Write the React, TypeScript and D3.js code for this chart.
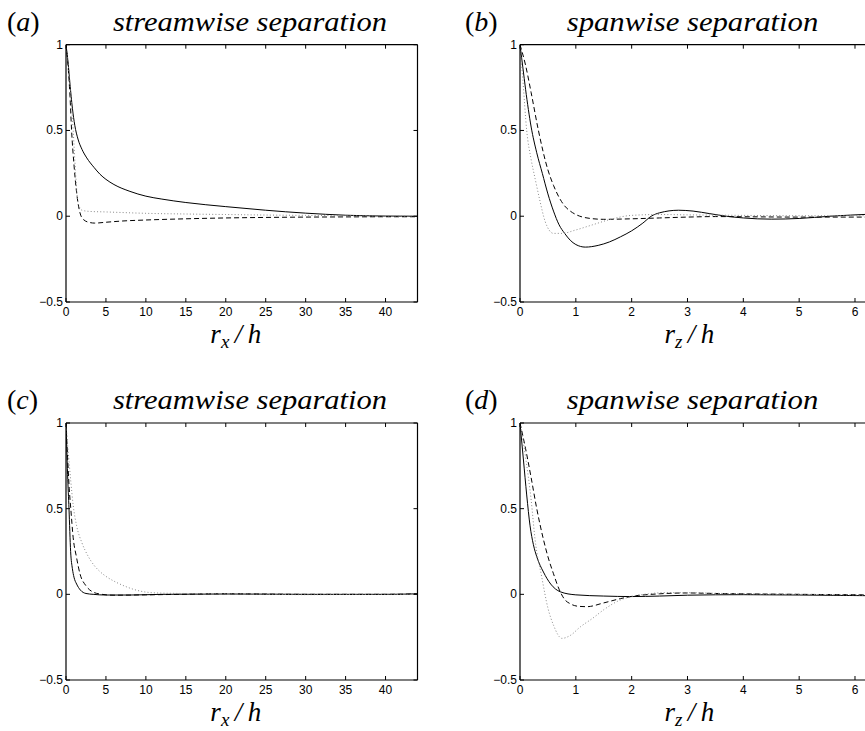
import React from "react";
import * as d3 from "d3";

type Pt = [number, number];

// x tick labels
const xTicksStream = [0, 5, 10, 15, 20, 25, 30, 35, 40];
const xTicksSpan = [0, 1, 2, 3, 4, 5, 6];
const yTicks = [-0.5, 0, 0.5, 1];
const yTickLabels = ["\u22120.5", "0", "0.5", "1"];

const panelLetters = ["a", "b", "c", "d"];
const panelTitles = ["streamwise separation", "spanwise separation", "streamwise separation", "spanwise separation"];

// (a) streamwise
const aSolid: Pt[] = [[0,1],[0.25,0.9],[0.5,0.77],[0.8,0.63],[1.1,0.53],[1.5,0.45],[2,0.39],[2.6,0.34],[3.5,0.285],[4.25,0.245],[5,0.215],[6,0.185],[8,0.145],[10,0.117],[12,0.1],[15,0.08],[20,0.056],[25,0.035],[30,0.018],[35,0.006],[40,0.001],[44,0]];
const aDashed: Pt[] = [[0,1],[0.3,0.85],[0.5,0.7],[0.7,0.5],[1,0.3],[1.3,0.15],[1.75,0.02],[2.2,-0.02],[3,-0.037],[3.6,-0.04],[5,-0.035],[7,-0.028],[10,-0.022],[15,-0.015],[20,-0.01],[25,-0.007],[30,-0.005],[35,-0.004],[40,-0.003],[44,-0.003]];
const aDotted: Pt[] = [[0,1],[0.3,0.88],[0.6,0.7],[0.9,0.5],[1.2,0.25],[1.5,0.08],[2,0.035],[3,0.028],[5,0.025],[10,0.017],[15,0.013],[20,0.01],[25,0.007],[30,0.005],[35,0.003],[40,0.001],[44,0]];

// (b) spanwise
const bSolid: Pt[] = [[0,1],[0.05,0.87],[0.1,0.74],[0.2,0.52],[0.3,0.37],[0.4,0.25],[0.5,0.13],[0.6,0.03],[0.7,-0.05],[0.8,-0.1],[0.9,-0.14],[1.0,-0.165],[1.17,-0.18],[1.4,-0.17],[1.6,-0.15],[1.8,-0.12],[2.0,-0.085],[2.2,-0.04],[2.35,0],[2.5,0.02],[2.84,0.035],[3.1,0.03],[3.4,0.015],[3.7,0],[4.0,-0.01],[4.5,-0.017],[5.0,-0.013],[5.55,0],[6.28,0.012]];
const bDashed: Pt[] = [[0,1],[0.1,0.88],[0.2,0.72],[0.33,0.5],[0.5,0.27],[0.6,0.18],[0.7,0.11],[0.8,0.06],[0.9,0.03],[1.0,0.01],[1.2,-0.01],[1.5,-0.018],[2,-0.015],[2.5,-0.01],[3,-0.005],[3.5,-0.002],[4,-0.003],[5,-0.005],[6.28,-0.005]];
const bDotted: Pt[] = [[0,1],[0.05,0.8],[0.12,0.5],[0.2,0.33],[0.27,0.22],[0.35,0.1],[0.45,-0.03],[0.6,-0.1],[0.75,-0.1],[1.0,-0.08],[1.3,-0.05],[1.6,-0.02],[2.0,0.005],[2.5,0.01],[3,0.008],[4,0.005],[5,0.003],[6.28,0.003]];

// (c) streamwise
const cSolid: Pt[] = [[0,1],[0.1,0.85],[0.2,0.7],[0.375,0.5],[0.58,0.25],[0.8,0.15],[1.0,0.1],[1.33,0.06],[1.8,0.025],[2.5,0.005],[3.4,0],[5,-0.004],[8,-0.004],[12,0],[20,0.002],[30,0],[40,0],[44,0.003]];
const cDashed: Pt[] = [[0,1],[0.2,0.8],[0.4,0.62],[0.6,0.5],[0.9,0.33],[1.3,0.22],[1.75,0.12],[2.5,0.05],[3.4,0.013],[4.5,0],[6,-0.005],[10,-0.003],[20,0.003],[30,0],[40,0],[44,0.003]];
const cDotted: Pt[] = [[0,1],[0.3,0.82],[0.6,0.66],[0.9,0.52],[1.33,0.4],[2,0.3],[2.8,0.22],[3.5,0.17],[4.2,0.135],[5,0.105],[6.3,0.07],[7.5,0.045],[8.4,0.03],[10,0.013],[12,0.007],[15,0.005],[20,0.004],[30,-0.002],[40,0],[44,0]];

// (d) spanwise
const dSolid: Pt[] = [[0,1],[0.06,0.79],[0.12,0.58],[0.18,0.4],[0.24,0.29],[0.3,0.22],[0.42,0.13],[0.55,0.06],[0.72,0.015],[1.0,-0.003],[1.5,-0.01],[2,-0.013],[2.5,-0.01],[3,-0.005],[4,-0.002],[5,-0.004],[6.28,-0.008]];
const dDashed: Pt[] = [[0,1],[0.1,0.85],[0.2,0.68],[0.3,0.5],[0.42,0.32],[0.5,0.22],[0.6,0.12],[0.7,0.03],[0.8,-0.03],[0.9,-0.055],[1.05,-0.07],[1.2,-0.072],[1.5,-0.05],[1.8,-0.025],[2.0,-0.012],[2.5,0.003],[3,0.008],[3.5,0.005],[4,0.003],[5,0],[6.28,-0.003]];
const dDotted: Pt[] = [[0,1],[0.1,0.8],[0.2,0.55],[0.27,0.32],[0.39,0.1],[0.5,-0.08],[0.6,-0.18],[0.75,-0.257],[0.9,-0.24],[1.08,-0.19],[1.3,-0.14],[1.5,-0.09],[1.75,-0.04],[2,-0.012],[2.3,0.003],[2.6,0.01],[3,0.01],[3.5,0.006],[4,0.003],[5,0],[6.28,-0.005]];

const series = [
  [aSolid, aDashed, aDotted],
  [bSolid, bDashed, bDotted],
  [cSolid, cDashed, cDotted],
  [dSolid, dDashed, dDotted],
];

const styles = [
  { stroke: "#000", dash: undefined as string | undefined, width: 1 },
  { stroke: "#000", dash: "5,3", width: 1 },
  { stroke: "#888", dash: "1,2.2", width: 1 },
];

const W = 865, H = 731;
const colLeft = [66, 520];
const colRight = [417.5, 870.8];
const rowTop = [44.7, 423];
const rowBottom = [302, 680];

function Panel({ idx }: { idx: number }) {
  const col = idx % 2, row = Math.floor(idx / 2);
  const L = colLeft[col], R = colRight[col], T = rowTop[row], B = rowBottom[row];
  const stream = col === 0;
  const x = d3.scaleLinear().domain(stream ? [0, 44] : [0, 2 * Math.PI]).range([L, R]);
  const y = d3.scaleLinear().domain([-0.5, 1]).range([B, T]);
  const xt = stream ? xTicksStream : xTicksSpan;
  const line = d3.line<Pt>().x(d => x(d[0])).y(d => y(d[1])).curve(d3.curveMonotoneX);
  const clipId = `clip${idx}`;
  const tk = 4;
  const titleX = stream ? [113, 387] : [566.7, 818.3];
  const letterX = stream ? 7 : 465;
  const titleBase = row === 0 ? 31 : 409;
  const labelCx = (L + R) / 2 - 6;
  const labelBase = row === 0 ? 343 : 721;
  return (
    <g>
      <defs>
        <clipPath id={clipId}><rect x={L} y={T - 2} width={R - L} height={B - T + 4} /></clipPath>
      </defs>
      <text x={letterX} y={titleBase} fontFamily="Liberation Serif" fontSize={28} fill="#000">
        <tspan>(</tspan><tspan fontStyle="italic">{panelLetters[idx]}</tspan><tspan>)</tspan>
      </text>
      <text x={titleX[0]} y={titleBase} fontFamily="Liberation Serif" fontStyle="italic" fontSize={28}
        textLength={titleX[1] - titleX[0]} lengthAdjust="spacingAndGlyphs" fill="#000">{panelTitles[idx]}</text>
      <g clipPath={`url(#${clipId})`}>
        {series[idx].map((s, i) => (
          <path key={i} d={line(s) || ""} fill="none" stroke={styles[i].stroke}
            strokeWidth={styles[i].width} strokeDasharray={styles[i].dash} />
        ))}
      </g>
      <line x1={L} x2={R} y1={T} y2={T} stroke="#000" strokeWidth={1.2} />
      <line x1={L} x2={R} y1={B} y2={B} stroke="#000" strokeWidth={1.2} />
      <line x1={L} x2={L} y1={T} y2={B} stroke="#000" strokeWidth={1.2} />
      <line x1={R} x2={R} y1={T} y2={B} stroke="#000" strokeWidth={1.2} />
      {xt.map(v => (
        <g key={"x" + v}>
          <line x1={x(v)} x2={x(v)} y1={B} y2={B - tk} stroke="#000" strokeWidth={1} />
          <line x1={x(v)} x2={x(v)} y1={T} y2={T + tk} stroke="#000" strokeWidth={1} />
          <text x={x(v)} y={B + 14} textAnchor="middle" fontFamily="Liberation Sans" fontSize={12} fill="#000">{v}</text>
        </g>
      ))}
      {yTicks.map((v, i) => (
        <g key={"y" + v}>
          <line x1={L} x2={L + tk} y1={y(v)} y2={y(v)} stroke="#000" strokeWidth={1} />
          <line x1={R} x2={R - tk} y1={y(v)} y2={y(v)} stroke="#000" strokeWidth={1} />
          <text x={L - 3} y={y(v) + 4} textAnchor="end" fontFamily="Liberation Sans" fontSize={12} fill="#000">{yTickLabels[i]}</text>
        </g>
      ))}
      <text x={labelCx} y={labelBase} textAnchor="middle" fontFamily="Liberation Serif" fontStyle="italic" fontSize={27} fill="#000">
        <tspan>r</tspan><tspan fontSize={19} dy={5}>{stream ? "x" : "z"}</tspan><tspan dy={-5}>{"\u2009/\u2009"}</tspan><tspan>h</tspan>
      </text>
    </g>
  );
}

export default function App() {
  return (
    <div style={{ position: "absolute", left: 0, top: 0 }}>
      <svg width={W} height={H} style={{ display: "block", background: "#fff" }}>
        {[0, 1, 2, 3].map(i => <Panel key={i} idx={i} />)}
      </svg>
    </div>
  );
}
